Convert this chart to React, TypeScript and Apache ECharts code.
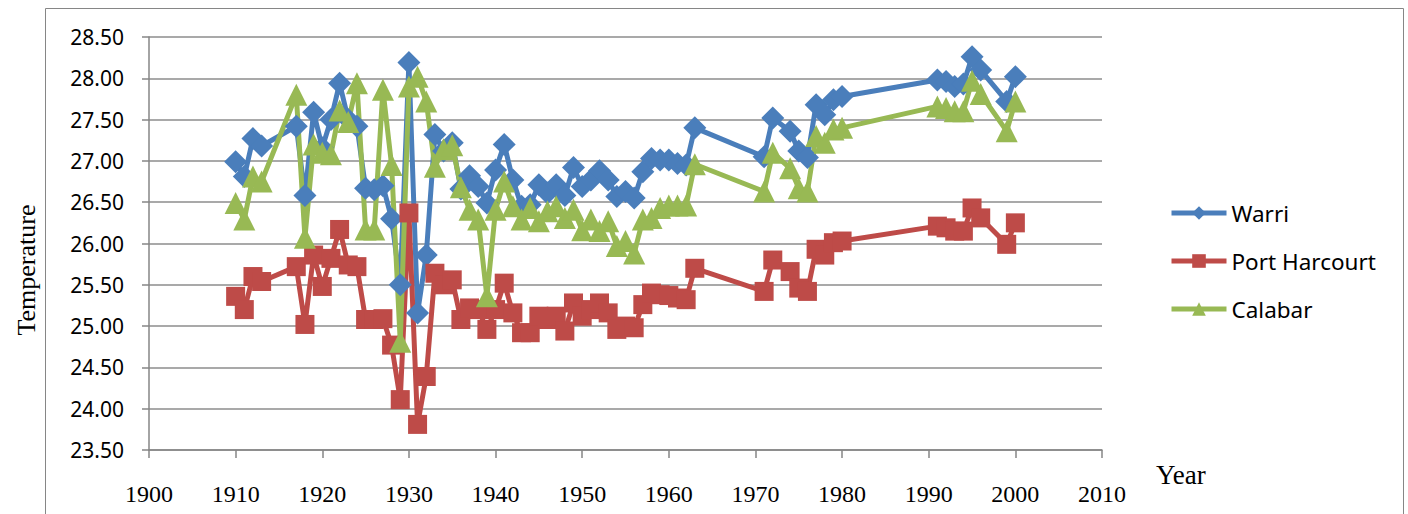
import React, { useEffect, useRef } from "react";
import * as echarts from "echarts";

const years = [
  1910, 1911, 1912, 1913, 1917, 1918, 1919, 1920, 1921, 1922, 1923, 1924, 1925, 1926, 1927, 1928, 1929,
  1930, 1931, 1932, 1933, 1934, 1935, 1936, 1937, 1938, 1939, 1940, 1941, 1942, 1943, 1944, 1945, 1946,
  1947, 1948, 1949, 1950, 1951, 1952, 1953, 1954, 1955, 1956, 1957, 1958, 1959, 1960, 1961, 1962, 1963,
  1971, 1972, 1974, 1975, 1976, 1977, 1978, 1979, 1980, 1991, 1992, 1993, 1994, 1995, 1996, 1999, 2000,
];

const warri = [
  26.99, 26.81, 27.27, 27.18, 27.42, 26.58, 27.59, 27.16, 27.5, 27.94, 27.5, 27.42, 26.67, 26.65, 26.7,
  26.3, 25.5, 28.19, 25.16, 25.86, 27.32, 27.12, 27.22, 26.66, 26.82, 26.69, 26.49, 26.89, 27.2, 26.77,
  26.45, 26.47, 26.71, 26.61, 26.71, 26.58, 26.92, 26.69, 26.77, 26.88, 26.77, 26.57, 26.63, 26.55, 26.87,
  27.03, 27.01, 27.01, 26.97, 26.95, 27.4, 27.05, 27.52, 27.36, 27.12, 27.04, 27.68, 27.56, 27.74, 27.78,
  27.98, 27.96, 27.9, 27.93, 28.26, 28.1, 27.72, 28.02,
];

const portHarcourt = [
  25.36, 25.2, 25.6, 25.54, 25.72, 25.02, 25.86, 25.48, 25.82, 26.17, 25.74, 25.72, 25.08, 25.08, 25.09,
  24.77, 24.11, 26.37, 23.81, 24.39, 25.64, 25.5, 25.56, 25.08, 25.22, 25.2, 24.96, 25.2, 25.52, 25.16,
  24.92, 24.92, 25.12, 25.08, 25.12, 24.94, 25.28, 25.12, 25.2, 25.28, 25.16, 24.96, 25.0, 24.98, 25.26,
  25.4, 25.38, 25.37, 25.34, 25.32, 25.7, 25.42, 25.8, 25.66, 25.46, 25.42, 25.93, 25.86, 26.01, 26.03,
  26.21, 26.19, 26.15, 26.15, 26.43, 26.31, 25.99, 26.25,
];

const calabar = [
  26.49, 26.29, 26.81, 26.75, 27.8, 26.07, 27.2, 27.1, 27.08, 27.61, 27.47, 27.94, 26.17, 26.17, 27.86,
  26.95, 24.81, 27.9, 28.02, 27.72, 26.93, 27.14, 27.19, 26.68, 26.41, 26.29, 25.36, 26.41, 26.75, 26.45,
  26.29, 26.43, 26.27, 26.39, 26.45, 26.31, 26.41, 26.16, 26.29, 26.15, 26.27, 25.97, 26.03, 25.88, 26.29,
  26.31, 26.43, 26.46, 26.46, 26.46, 26.96, 26.63, 27.1, 26.91, 26.67, 26.63, 27.3, 27.22, 27.38, 27.4,
  27.66, 27.64, 27.6, 27.6, 27.97, 27.81, 27.36, 27.72,
];

const seriesNames = ["Warri", "Port Harcourt", "Calabar"];
const seriesColors = ["#4A7EBB", "#BE4B48", "#98B954"];
const seriesSymbols = ["diamond", "rect", "triangle"];
const seriesSizes = [23, 19, 22];

const toPairs = (vals: number[]) => years.map((y, i) => [y, vals[i]]);

export default function App() {
  const ref = useRef<HTMLDivElement>(null);
  useEffect(() => {
    document.body.style.margin = "0";
    if (!ref.current) return;
    const chart = echarts.init(ref.current, null, { renderer: "svg" });
    const allValues = [warri, portHarcourt, calabar];
    chart.setOption({
      animation: false,
      backgroundColor: "#ffffff",
      grid: { left: 149, right: 306, top: 37, bottom: 64, containLabel: false },
      xAxis: {
        type: "value",
        min: 1900,
        max: 2010,
        interval: 10,
        axisLine: { show: true, lineStyle: { color: "#868686", width: 1.5 } },
        axisTick: { show: true, length: 8, inside: false, lineStyle: { color: "#868686", width: 1.5 } },
        splitLine: { show: false },
        axisLabel: {
          margin: 32,
          color: "#000",
          fontFamily: "Liberation Serif",
          fontSize: 24,
          formatter: (v: number) => String(v),
        },
      },
      yAxis: {
        type: "value",
        min: 23.5,
        max: 28.5,
        interval: 0.5,
        axisLine: { show: true, lineStyle: { color: "#868686", width: 1.5 } },
        axisTick: { show: true, length: 7, lineStyle: { color: "#868686", width: 1.5 } },
        splitLine: { show: true, lineStyle: { color: "#8C8C8C", width: 1.5 } },
        axisLabel: {
          margin: 25,
          color: "#000",
          fontFamily: "Noto Sans",
          fontSize: 21,
          formatter: (v: number) => v.toFixed(2),
        },
      },
      legend: {
        orient: "vertical",
        left: 1169,
        top: 201,
        padding: 0,
        itemWidth: 55,
        itemHeight: 17,
        itemGap: 24,
        data: seriesNames.map((name, i) => ({
          name,
          itemStyle: { color: seriesColors[i] },
          lineStyle: { color: seriesColors[i], width: 5 },
        })),
        textStyle: { color: "#000", fontFamily: "Noto Sans", fontSize: 22.5, lineHeight: 24 },
      },
      graphic: [
        {
          type: "rect",
          shape: { x: 45.5, y: 8.5, width: 1358, height: 520 },
          style: { fill: "none", stroke: "#868686", lineWidth: 1 },
          silent: true,
        },
        {
          type: "text",
          x: 26,
          y: 270,
          rotation: Math.PI / 2,
          style: {
            text: "Temperature",
            fontFamily: "Liberation Serif",
            fontSize: 26,
            fill: "#000",
            align: "center",
            verticalAlign: "middle",
          },
        },
        {
          type: "text",
          x: 1156,
          y: 475,
          style: {
            text: "Year",
            fontFamily: "Liberation Serif",
            fontSize: 27,
            fill: "#000",
            align: "left",
            verticalAlign: "middle",
          },
        },
      ],
      series: seriesNames.map((name, i) => ({
        name,
        type: "line",
        data: toPairs(allValues[i]),
        symbol: seriesSymbols[i],
        symbolSize: seriesSizes[i],
        showAllSymbol: true,
        lineStyle: { color: seriesColors[i], width: 5 },
        itemStyle: { color: seriesColors[i], borderWidth: 0 },
        emphasis: { disabled: true },
      })),
    });
    return () => chart.dispose();
  }, []);
  return <div ref={ref} style={{ width: 1408, height: 514 }} />;
}
